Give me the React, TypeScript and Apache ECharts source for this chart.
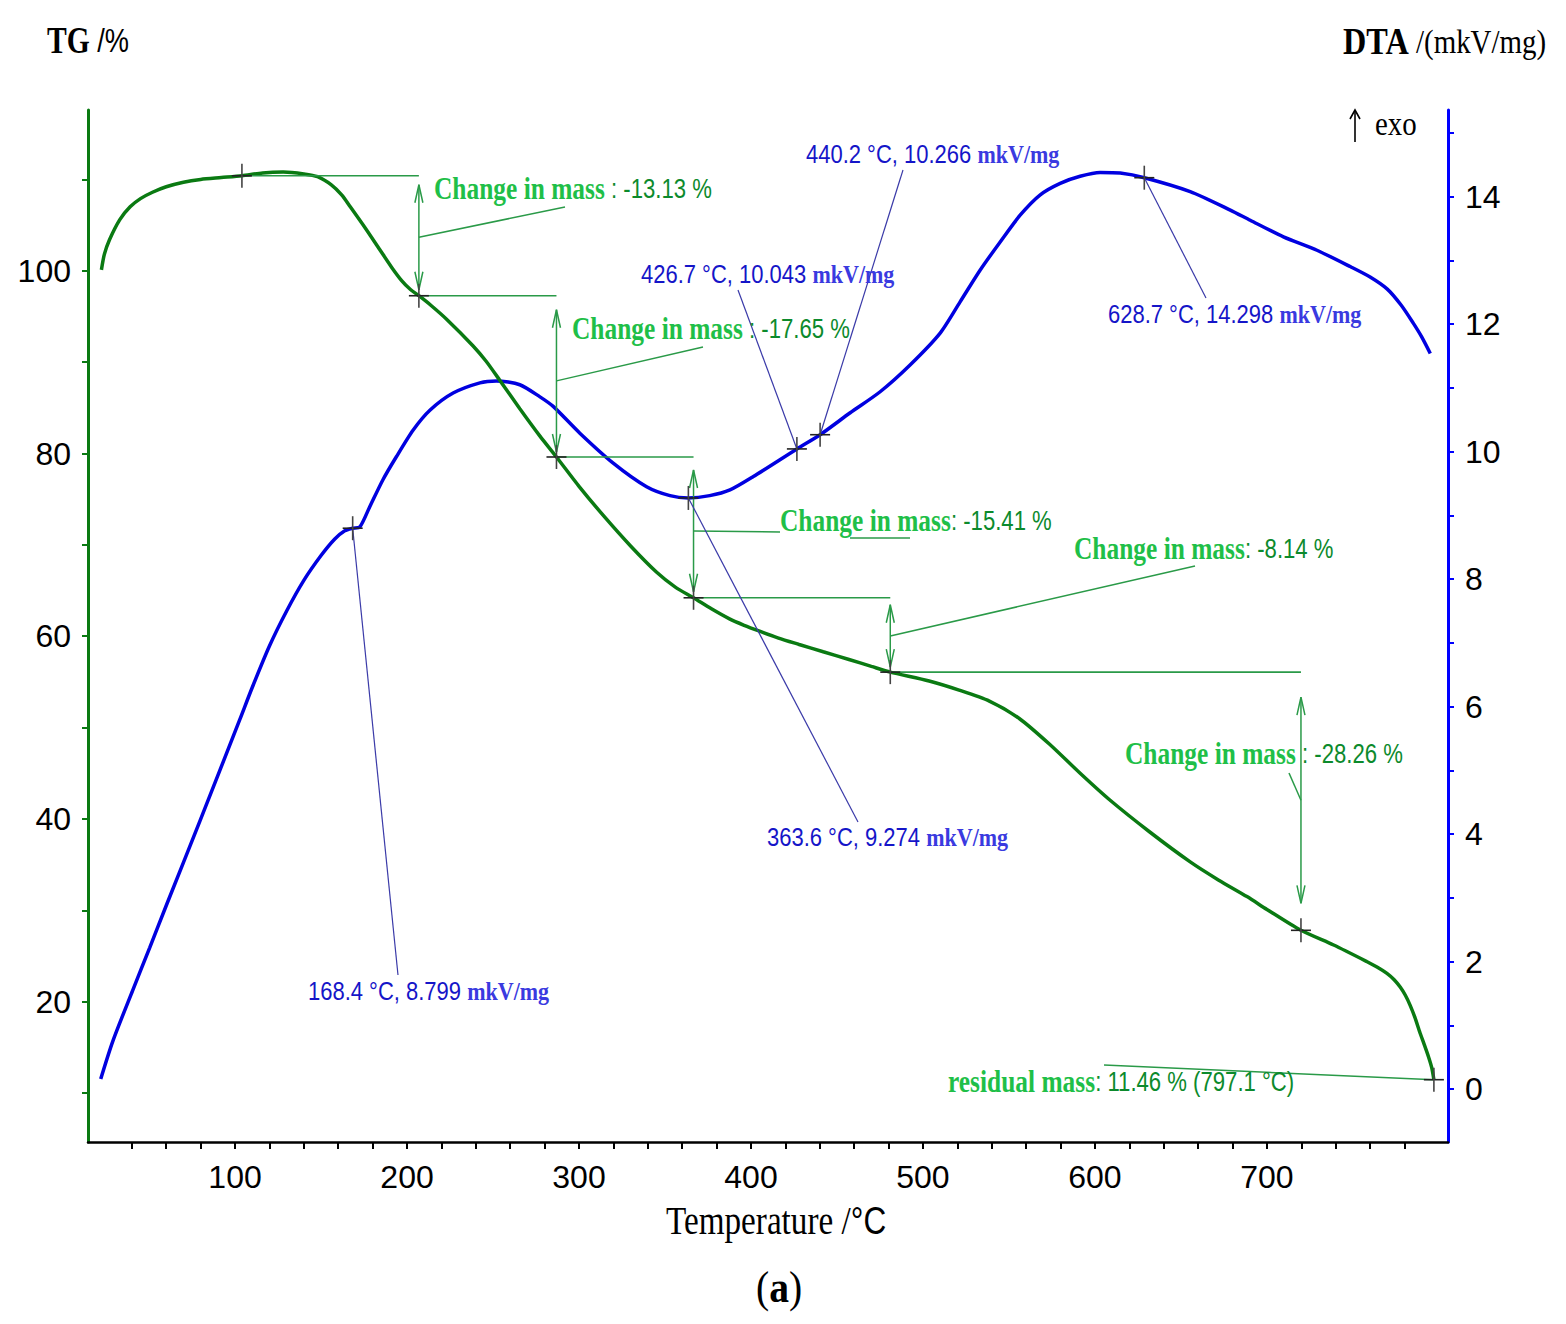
import React, { useEffect, useRef } from "react";
import * as echarts from "echarts";

// TG curve: [temperature °C, mass %]
const tgPoints: [number, number][] = [
  [22.3, 100.1], [24, 101.8], [27, 103.4], [33, 105.6], [39, 107.0], [45, 107.9],
  [52, 108.6], [60, 109.2], [70, 109.7], [80, 110.0], [92, 110.2], [104, 110.4],
  [116, 110.7], [128, 110.8], [140, 110.6], [148, 110.3], [156, 109.4], [162, 108.3],
  [167, 107.0], [176, 104.6], [184.2, 102.3], [191, 100.4], [197, 98.9], [202, 97.95],
  [206.9, 97.27], [214, 96.2], [223, 94.7], [238.3, 91.8], [246, 90.1], [254, 88.0],
  [265.6, 84.9], [277.3, 81.9], [286.9, 79.62], [300, 76.41], [315, 73.03], [330, 69.88],
  [345, 67.03], [356, 65.38], [366.6, 64.21], [377, 63.0], [387.5, 61.9], [396, 61.2],
  [405, 60.55], [416, 59.8], [428, 59.1], [442, 58.3], [457, 57.45], [470, 56.7],
  [481, 56.07], [503.6, 55.1], [521, 54.1], [538.6, 52.9], [556, 51.0], [573.5, 48.2],
  [591.4, 45.0], [608.5, 42.1], [631.7, 38.6], [655.4, 35.3], [672, 33.3], [688.4, 31.5],
  [700, 30.1], [719.8, 27.81], [738.8, 26.2], [758, 24.4], [764, 23.8], [769.8, 23.1],
  [774, 22.4], [777.5, 21.6], [780.5, 20.7], [783.3, 19.6], [786, 18.3], [789, 16.6],
  [791.5, 15.3], [793.9, 14.0], [795.8, 12.8], [797.1, 11.46],
];

// DTA curve: [temperature °C, signal mkV/mg]
const dtaPoints: [number, number][] = [
  [21.9, 0.16], [28.9, 0.75], [40.5, 1.55], [50.4, 2.22], [60.3, 2.9], [79.5, 4.2],
  [102.8, 5.8], [110, 6.3], [120, 6.95], [130, 7.5], [140, 7.98], [150, 8.37],
  [158, 8.63], [163.8, 8.76], [168.4, 8.799], [172.6, 8.82], [178.4, 9.14], [186, 9.56],
  [193.8, 9.92], [203.6, 10.34], [213.3, 10.65], [226.8, 10.92], [242.4, 11.08], [252, 11.11],
  [265.6, 11.05], [277.3, 10.86], [285, 10.71], [300.5, 10.29], [319.9, 9.82], [339.3, 9.45],
  [352.9, 9.31], [363.6, 9.274], [376, 9.31], [387.8, 9.4], [401.4, 9.61], [426.7, 10.043],
  [440.2, 10.266], [457.7, 10.61], [475.1, 10.94], [492.5, 11.36], [510, 11.86], [521.6, 12.35],
  [533.3, 12.85], [544.9, 13.29], [556.5, 13.71], [568.2, 14.03], [579.8, 14.21], [591.4, 14.32],
  [603, 14.38], [614.7, 14.37], [628.7, 14.298], [655.4, 14.08], [678.7, 13.79], [690.3, 13.63],
  [709.6, 13.37], [729.1, 13.16], [748.7, 12.9], [760, 12.74], [770, 12.55], [778, 12.3],
  [785, 12.02], [790, 11.8], [795, 11.54],
];

// Mass-loss steps
const stepTemps = [104.0, 206.9, 286.9, 366.6, 481.0, 719.8];
const stepMass = [110.4, 97.27, 79.62, 64.21, 56.07, 27.81];
const massChanges = [-13.13, -17.65, -15.41, -8.14, -28.26];
const residualTemp = 797.1;
const residualMass = 11.46;

// DTA characteristic points
const dtaPeakTemps = [168.4, 363.6, 426.7, 440.2, 628.7];
const dtaPeakValues = [8.799, 9.274, 10.043, 10.266, 14.298];

// Axis ticks and labels
const xTicks = Array.from({ length: 38 }, (_, i) => 40 + i * 20);
const xLabels = [100, 200, 300, 400, 500, 600, 700];
const tgTicks = [10, 20, 30, 40, 50, 60, 70, 80, 90, 100, 110];
const tgLabels = [20, 40, 60, 80, 100];
const dtaTicks = [0, 1, 2, 3, 4, 5, 6, 7, 8, 9, 10, 11, 12, 13, 14, 15];
const dtaLabels = [0, 2, 4, 6, 8, 10, 12, 14];

const SERIF = "'Liberation Serif', 'Times New Roman', serif";
const SANS = "'Liberation Sans', Arial, sans-serif";

const TG_COLOR = "#0a7a12";
const DTA_COLOR = "#0000e0";
const NOTE_GREEN = "#2a9a48";
const NOTE_BLUE = "#3a3aa8";

// Layout of the mass-change notes (label anchor, leader end, arrow gaps)
const changeNoteLayout = [
  { x: 434, y: 189, sep: " ", leadEnd: [565, 207], gap: [9, 6] },
  { x: 572, y: 329, sep: " ", leadEnd: [703, 347], gap: [14, 5] },
  { x: 780, y: 521, sep: "", leadEnd: [780, 532], gap: [13, 6] },
  { x: 1074, y: 549, sep: "", leadEnd: [1195, 566], gap: [7, 5] },
  { x: 1125, y: 754, sep: " ", leadEnd: [1289, 773], gap: [25, 27] },
];
const dtaNoteLayout = [
  { x: 308, y: 992, leadEnd: [398, 975] },
  { x: 767, y: 838, leadEnd: [858, 822] },
  { x: 641, y: 275, leadEnd: [738, 290] },
  { x: 806, y: 155, leadEnd: [903, 170] },
  { x: 1108, y: 315, leadEnd: [1206, 298] },
];

function textEl(x: number, y: number, text: string, rich: any, scaleX: number) {
  return {
    type: "text",
    x,
    y,
    scaleX,
    z: 20,
    style: {
      text,
      rich,
      align: "left",
      verticalAlign: "middle",
      textAlign: "left",
      textVerticalAlign: "middle",
    },
  };
}

export default function App() {
  const ref = useRef<HTMLDivElement>(null);

  useEffect(() => {
    const chart = echarts.init(ref.current!, null, { renderer: "svg" });

    const tickLabel = { fontFamily: SANS, fontSize: 32, color: "#000" };

    const option: any = {
      animation: false,
      backgroundColor: "#ffffff",
      grid: { left: 88, right: 118, top: 110, bottom: 182 },
      xAxis: {
        type: "value",
        min: 14.5,
        max: 805.3,
        axisLine: { show: true, onZero: false, lineStyle: { color: "#000", width: 2.5 } },
        axisTick: { show: true, customValues: xTicks, length: 7, lineStyle: { color: "#000", width: 2 } },
        axisLabel: { customValues: xLabels, ...tickLabel, margin: 19 },
        splitLine: { show: false },
      },
      yAxis: [
        {
          type: "value",
          position: "left",
          min: 4.64,
          max: 117.6,
          axisLine: { show: true, onZero: false, lineStyle: { color: "#0a7a12", width: 3 } },
          axisTick: { show: true, customValues: tgTicks, length: 6, lineStyle: { color: "#0a7a12", width: 2 } },
          axisLabel: { customValues: tgLabels, ...tickLabel, margin: 17 },
          splitLine: { show: false },
        },
        {
          type: "value",
          position: "right",
          min: -0.83,
          max: 15.36,
          axisLine: { show: true, onZero: false, lineStyle: { color: "#0000ff", width: 3 } },
          axisTick: { show: true, customValues: dtaTicks, length: 6, lineStyle: { color: "#0000ff", width: 2 } },
          axisLabel: { customValues: dtaLabels, ...tickLabel, margin: 17 },
          splitLine: { show: false },
        },
      ],
      series: [
        {
          name: "DTA",
          type: "line",
          yAxisIndex: 1,
          data: dtaPoints,
          smooth: 0.25,
          symbol: "none",
          lineStyle: { color: DTA_COLOR, width: 3.5 },
          z: 3,
        },
        {
          name: "TG",
          type: "line",
          yAxisIndex: 0,
          data: tgPoints,
          smooth: 0.25,
          symbol: "none",
          lineStyle: { color: TG_COLOR, width: 3.5 },
          z: 4,
        },
      ],
    };
    chart.setOption(option);

    const tg = (x: number, y: number) => chart.convertToPixel({ xAxisIndex: 0, yAxisIndex: 0 }, [x, y]) as number[];
    const dta = (x: number, y: number) => chart.convertToPixel({ xAxisIndex: 0, yAxisIndex: 1 }, [x, y]) as number[];

    const els: any[] = [];
    const line = (x1: number, y1: number, x2: number, y2: number, color: string, width: number, z = 5) =>
      els.push({
        type: "line",
        z,
        shape: { x1, y1, x2, y2 },
        style: { stroke: color, lineWidth: width },
      });
    const cross = (p: number[]) => {
      line(p[0] - 10, p[1], p[0] + 10, p[1], "#222", 1.6, 30);
      line(p[0], p[1] - 12, p[0], p[1] + 12, "#444", 1.6, 30);
    };
    const arrowHead = (x: number, y: number, dir: number) =>
      els.push({
        type: "polyline",
        z: 5,
        shape: { points: [[x - 4, y + dir * 18], [x, y], [x + 4, y + dir * 18]] },
        style: { stroke: NOTE_GREEN, lineWidth: 1.5, fill: "none" },
      });

    const changeRich = {
      a: { fontFamily: SERIF, fontWeight: "bold", fontSize: 31, fill: "#1fbf48", color: "#1fbf48" },
      b: { fontFamily: SANS, fontSize: 27, fill: "#0c8a2c", color: "#0c8a2c" },
    };

    // Step lines, double arrows and mass-change labels
    for (let i = 0; i < massChanges.length; i++) {
      const a = tg(stepTemps[i], stepMass[i]);
      const b = tg(stepTemps[i + 1], stepMass[i + 1]);
      const lay = changeNoteLayout[i];
      line(a[0], a[1], b[0], a[1], NOTE_GREEN, 1.6);
      const top = a[1] + lay.gap[0];
      const bot = b[1] - lay.gap[1];
      line(b[0], top, b[0], bot, NOTE_GREEN, 1.5);
      arrowHead(b[0], top, 1);
      arrowHead(b[0], bot, -1);
      const midY = (top + bot) / 2;
      line(b[0], midY, lay.leadEnd[0], lay.leadEnd[1], NOTE_GREEN, 1.5);
      if (i === 2) line(850, 538, 910, 538, NOTE_GREEN, 1.5);
      els.push(
        textEl(lay.x, lay.y, `{a|Change in mass}{b|${lay.sep}: ${massChanges[i].toFixed(2)} %}`, changeRich, 0.82)
      );
    }
    stepTemps.forEach((t, i) => cross(tg(t, stepMass[i])));

    // Residual mass
    const r = tg(residualTemp, residualMass);
    line(r[0], r[1], 1104, 1065, NOTE_GREEN, 1.5);
    cross(r);
    els.push(
      textEl(
        948,
        1082,
        `{a|residual mass}{b|: ${residualMass.toFixed(2)} % (${residualTemp.toFixed(1)} °C)}`,
        changeRich,
        0.82
      )
    );

    // DTA characteristic points
    dtaPeakTemps.forEach((t, i) => {
      const p = dta(t, dtaPeakValues[i]);
      const lay = dtaNoteLayout[i];
      line(p[0], p[1], lay.leadEnd[0], lay.leadEnd[1], NOTE_BLUE, 1.2);
      cross(p);
      els.push(
        textEl(
          lay.x,
          lay.y,
          `{a|${t.toFixed(1)} °C, ${dtaPeakValues[i].toFixed(3)} }{b|mkV/mg}`,
          {
            a: { fontFamily: SANS, fontSize: 25, fill: "#1515c8", color: "#1515c8" },
            b: { fontFamily: SERIF, fontWeight: "bold", fontSize: 25, fill: "#3a3ae0", color: "#3a3ae0" },
          },
          0.88
        )
      );
    });

    // Axis headings and caption
    els.push(
      textEl(47, 40, "{a|TG}{b| /%}", {
        a: { fontFamily: SERIF, fontWeight: "bold", fontSize: 37, fill: "#000" },
        b: { fontFamily: SANS, fontSize: 34, fill: "#000" },
      }, 0.8)
    );
    els.push(
      textEl(1343, 42, "{a|DTA}{b| /(mkV/mg)}", {
        a: { fontFamily: SERIF, fontWeight: "bold", fontSize: 38, fill: "#000" },
        b: { fontFamily: SERIF, fontSize: 34, fill: "#000" },
      }, 0.85)
    );
    line(1355, 142, 1355, 110, "#000", 1.6, 20);
    els.push({
      type: "polyline",
      z: 20,
      shape: { points: [[1350, 119], [1355, 110], [1360, 119]] },
      style: { stroke: "#000", lineWidth: 1.6, fill: "none" },
    });
    els.push(textEl(1375, 124, "{a|exo}", { a: { fontFamily: SERIF, fontSize: 34, fill: "#000" } }, 0.85));
    els.push(
      textEl(666, 1220, "{a|Temperature /}{b|°C}", {
        a: { fontFamily: SERIF, fontSize: 40, fill: "#000" },
        b: { fontFamily: SANS, fontSize: 38, fill: "#000" },
      }, 0.83)
    );
    els.push(
      textEl(756, 1287, "{a|(}{b|a}{a|)}", {
        a: { fontFamily: SERIF, fontSize: 44, fill: "#000" },
        b: { fontFamily: SERIF, fontWeight: "bold", fontSize: 44, fill: "#000" },
      }, 0.9)
    );

    chart.setOption({ graphic: { elements: els } });

    return () => chart.dispose();
  }, []);

  return (
    <div
      ref={ref}
      style={{ position: "absolute", left: 0, top: 0, width: 1566, height: 1324, background: "#fff" }}
    />
  );
}
